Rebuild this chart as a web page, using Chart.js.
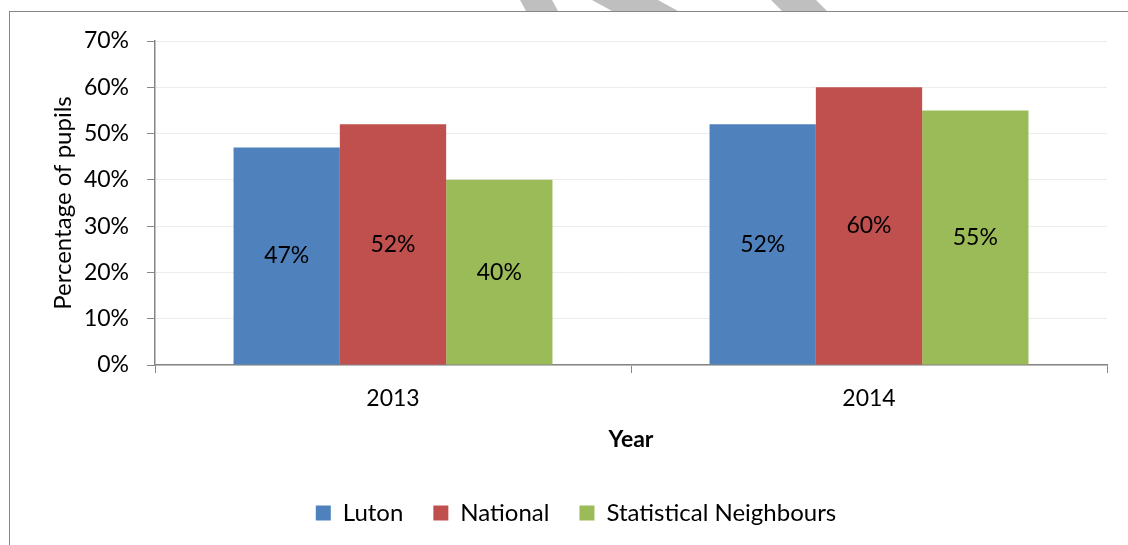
<!DOCTYPE html>
<html>
<head>
<meta charset="utf-8">
<script src="https://cdn.jsdelivr.net/npm/chart.js@4.4.1/dist/chart.umd.min.js"></script>
<style>
  html, body { margin: 0; padding: 0; background: #ffffff; overflow: hidden; }
  #wrap { position: relative; width: 1128px; height: 545px; }
  #frame { position: absolute; left: 9px; top: 11px; width: 1200px; height: 600px; border: 1px solid #868686; box-sizing: border-box; }
  #mark { position: absolute; left: 0; top: 0; }
  canvas { position: absolute; left: 0; top: 0; }
</style>
</head>
<body>
<div id="wrap">
  <div id="frame"></div>
  <svg id="mark" width="1128" height="12">
    <polygon points="520,0 552,0 558,11 526,11" fill="#bfbfbf"/>
    <polygon points="592,0 658,0 678,11 612,11" fill="#bfbfbf"/>
    <polygon points="771,0 816,0 827,11 782,11" fill="#bfbfbf"/>
  </svg>
  <canvas id="chart" width="1128" height="545"></canvas>
</div>
<script>
// data
const years = ['2013', '2014'];
const lutonValues = [47, 52];
const nationalValues = [52, 60];
const neighbourValues = [40, 55];
const seriesNames = ['Luton', 'National', 'Statistical Neighbours'];
const seriesColors = ['#4f81bd', '#c0504d', '#9bbb59'];

const FONT = 'Lato, Calibri, "Open Sans", sans-serif';

// Draw the value in the middle of each bar
const barValueLabels = {
  id: 'barValueLabels',
  afterDatasetsDraw(chart) {
    const ctx = chart.ctx;
    ctx.save();
    ctx.font = '23px ' + FONT;
    ctx.fillStyle = '#000000';
    ctx.textAlign = 'center';
    ctx.textBaseline = 'middle';
    chart.data.datasets.forEach((ds, i) => {
      const meta = chart.getDatasetMeta(i);
      meta.data.forEach((bar, j) => {
        const y = (bar.y + bar.base) / 2;
        ctx.fillText(ds.data[j] + '%', bar.x, y);
      });
    });
    ctx.restore();
  }
};

const ctx = document.getElementById('chart').getContext('2d');
new Chart(ctx, {
  type: 'bar',
  data: {
    labels: years,
    datasets: [
      { label: seriesNames[0], data: lutonValues, backgroundColor: seriesColors[0] },
      { label: seriesNames[1], data: nationalValues, backgroundColor: seriesColors[1] },
      { label: seriesNames[2], data: neighbourValues, backgroundColor: seriesColors[2] }
    ]
  },
  options: {
    responsive: false,
    animation: false,
    layout: { padding: { left: 45, right: 21, top: 41, bottom: 10 } },
    datasets: {
      bar: { categoryPercentage: 0.67, barPercentage: 1.0, borderWidth: 0 }
    },
    plugins: {
      legend: {
        position: 'bottom',
        labels: {
          boxWidth: 15,
          boxHeight: 15,
          padding: 30,
          color: '#000000',
          font: { family: FONT, size: 24 }
        }
      },
      tooltip: { enabled: false }
    },
    scales: {
      x: {
        afterFit: scale => { scale.height = 106; },
        grid: { drawOnChartArea: false, drawTicks: true, tickLength: 8, tickColor: '#868686', offset: true },
        border: { color: '#868686', width: 1.5 },
        ticks: { color: '#000000', padding: 12, font: { family: FONT, size: 23 } },
        title: {
          display: true,
          text: 'Year',
          color: '#000000',
          padding: { top: 18, bottom: 18 },
          font: { family: FONT, size: 23, weight: 'bold' }
        }
      },
      y: {
        min: 0,
        max: 70,
        afterFit: scale => { scale.width = 110; },
        grid: { color: '#ececec', lineWidth: 1, tickLength: 8, tickColor: '#868686' },
        border: { color: '#868686', width: 1.5 },
        ticks: {
          stepSize: 10,
          padding: 18,
          color: '#000000',
          font: { family: FONT, size: 23 },
          callback: value => value + '%'
        },
        title: {
          display: true,
          text: 'Percentage of pupils',
          color: '#000000',
          padding: { top: 4, bottom: 8 },
          font: { family: FONT, size: 24 }
        }
      }
    }
  },
  plugins: [barValueLabels]
});
</script>
</body>
</html>
